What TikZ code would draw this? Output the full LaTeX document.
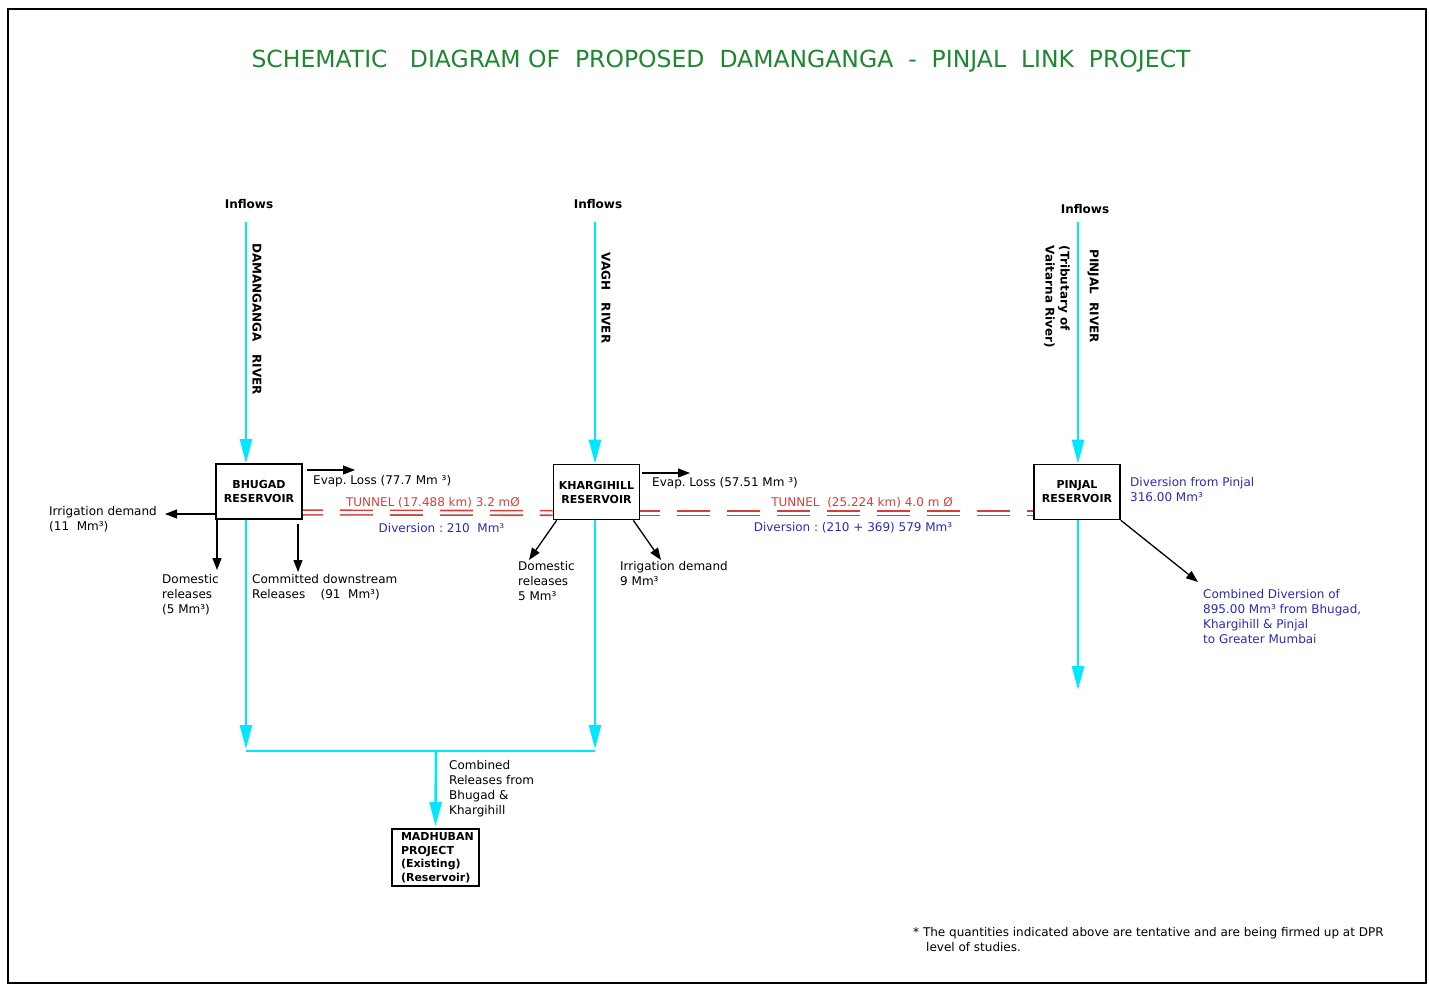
\documentclass[tikz,border=0pt]{standalone}
\usepackage{fontspec}
\setmainfont{DejaVu Sans}
\usetikzlibrary{arrows.meta,positioning,calc}
\definecolor{river}{RGB}{0,232,255}
\definecolor{tunnelred}{RGB}{214,62,62}
\definecolor{divblue}{RGB}{42,42,185}
\definecolor{titlegreen}{RGB}{30,135,50}
\frenchspacing

\begin{document}
\begin{tikzpicture}[x=1pt, y=-1pt, every node/.style={font=\fontsize{12}{15}\selectfont, inner sep=0pt}]
\tikzset{
  res/.style={draw, line width=1.6pt, minimum width=86pt, minimum height=55pt, align=center, font=\fontsize{11}{14}\selectfont\bfseries},
  water/.style={river, line width=2.6pt, -{Triangle[length=24pt,width=12pt]}},
  waterline/.style={river, line width=2.6pt},
  flow/.style={line width=1.3pt, -{Triangle[length=12pt,width=9pt]}},
  tunnel/.style={tunnelred, line width=1.6pt, double=white, double distance=3pt, dash pattern=on 33pt off 17pt, dash phase=13pt},
  note/.style={align=left, anchor=west},
  inflow/.style={font=\fontsize{12}{15}\selectfont\bfseries},
  rivername/.style={rotate=-90, align=left, font=\fontsize{12}{15}\selectfont\bfseries},
}
\useasboundingbox (0,0) rectangle (1429,984);
\draw[line width=2pt] (8,9) rectangle (1426,983);

% title
\node[text=titlegreen, font=\fontsize{23.5}{28}\selectfont] (title) at (721,61)
  {SCHEMATIC~~~DIAGRAM OF~~PROPOSED~~DAMANGANGA~~-~~PINJAL~~LINK~~PROJECT};

% reservoirs
\node[res] (bhugad) at (259,491.5) {BHUGAD\\RESERVOIR};
\node[res] (kharg) at (596.5,492) {KHARGIHILL\\RESERVOIR};
\node[res] (pinjal) at (1077,492) {PINJAL\\RESERVOIR};
\node[draw, line width=1.6pt, text width=69pt, inner xsep=9pt, minimum height=57pt, align=left,
  font=\fontsize{11}{13.5}\selectfont\bfseries] (madhuban) at (435.5,857.5)
  {MADHUBAN\\PROJECT\\(Existing)\\(Reservoir)};

% inflows
\node[inflow] (inf1) at (249,204) {Inflows};
\node[inflow] (inf2) at (598,204) {Inflows};
\node[inflow] (inf3) at (1085,209) {Inflows};
\coordinate (damtop) at (246,222);
\coordinate (vaghtop) at (595,222);
\coordinate (pintop) at (1078,222);
\node[rivername] (damname) at (257,319) {DAMANGANGA~~~RIVER};
\node[rivername] (vaghname) at (606,298) {VAGH~~~RIVER};
\node[rivername] (pinname) at (1093,296) {PINJAL~~RIVER};
\node[rivername] (tribname) at (1057,297) {(Tributary of\\Vaitarna River)};

\draw[water] (damtop) -- (damtop |- bhugad.north);
\draw[water] (vaghtop) -- (vaghtop |- kharg.north);
\draw[water] (pintop) -- (pintop |- pinjal.north);

% releases to Madhuban
\coordinate (j1) at (246,751);
\coordinate (j2) at (595,751);
\coordinate (jm) at (436,751);
\coordinate (pinend) at (1078,690);
\draw[water, shorten >=2pt] (j1 |- bhugad.south) -- (j1);
\draw[water, shorten >=2pt] (j2 |- kharg.south) -- (j2);
\draw[waterline] (j1) -- (j2);
\draw[water, shorten >=2pt] (jm) -- (madhuban.north);
\draw[water] (pintop |- pinjal.south) -- (pinend);
\node[note] (combrel) at (449,789) {Combined\\Releases from\\Bhugad \&\\Khargihill};

% tunnels
\draw[tunnel] ([yshift=-21pt]bhugad.east) -- ([yshift=-21pt]kharg.west);
\draw[tunnel] ([yshift=-21pt]kharg.east) -- ([yshift=-21pt]pinjal.west);
\node[text=tunnelred] (tun1) at (433,503) {TUNNEL (17.488 km) 3.2 mØ};
\node[text=divblue] (div1) at (441.5,528) {Diversion : 210~~Mm³};
\node[text=tunnelred] (tun2) at (862,503) {TUNNEL~~(25.224 km) 4.0 m Ø};
\node[text=divblue] (div2) at (853,528) {Diversion : (210 + 369) 579 Mm³};

% Bhugad outflows
\coordinate (bevap) at (355,470);
\coordinate (birr) at (165,514);
\coordinate (bdom) at (217,570);
\coordinate (bcom) at (298,572);
\draw[flow, shorten <=4pt] (bevap -| bhugad.east) -- (bevap);
\draw[flow] (birr -| bhugad.west) -- (birr);
\draw[flow] (bdom |- bhugad.south) -- (bdom);
\draw[flow, shorten <=4pt] (bcom |- bhugad.south) -- (bcom);
\node[note] (bevapl) at (313,481) {Evap. Loss (77.7 Mm ³)};
\node[note] (birrl) at (49,519.5) {Irrigation demand\\(11~~Mm³)};
\node[note] (bdoml) at (162,595) {Domestic\\releases\\(5 Mm³)};
\node[note] (bcoml) at (252,587.5) {Committed downstream\\Releases~~~~(91~~Mm³)};

% Khargihill outflows
\coordinate (kevap) at (690,473);
\coordinate (kdom) at (529,560);
\coordinate (kirr) at (661,560);
\draw[flow, shorten <=2pt] (kevap -| kharg.east) -- (kevap);
\draw[flow] ([xshift=4pt]kharg.south west) -- (kdom);
\draw[flow] ([xshift=-7pt]kharg.south east) -- (kirr);
\node[note] (kevapl) at (652,483) {Evap. Loss (57.51 Mm ³)};
\node[note] (kdoml) at (518,581.5) {Domestic\\releases\\5 Mm³};
\node[note] (kirrl) at (620,573.5) {Irrigation demand\\9 Mm³};

% Pinjal outflows
\coordinate (mumbai) at (1198,582);
\draw[flow] (pinjal.south east) -- (mumbai);
\node[note, text=divblue] (pindiv) at (1130,489.5) {Diversion from Pinjal\\316.00 Mm³};
\node[note, text=divblue] (combdiv) at (1203,617) {Combined Diversion of\\895.00 Mm³ from Bhugad,\\Khargihill \& Pinjal\\to Greater Mumbai};

% footnote
\node[note] (foot) at (913,939.5)
  {* The quantities indicated above are tentative and are being firmed up at DPR\\\hspace*{13pt}level of studies.};
\end{tikzpicture}
\end{document}
